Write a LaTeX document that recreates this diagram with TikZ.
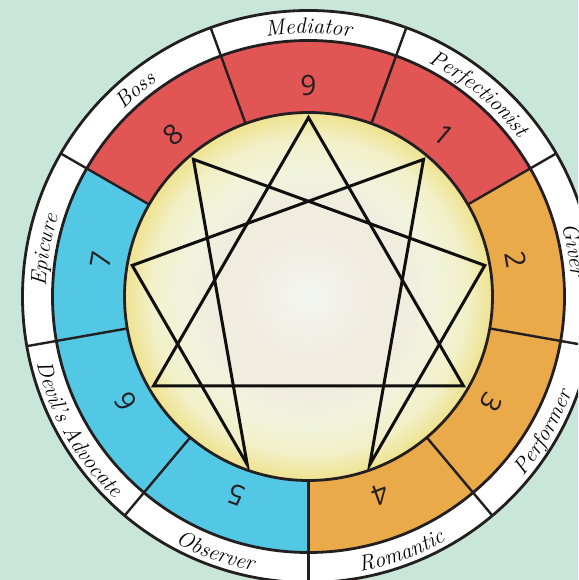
\documentclass[tikz,border=0pt]{standalone}
\usepackage{fontspec}
\newfontfamily\numfont{Open Sans}
\usetikzlibrary{decorations.text}

\definecolor{mint}{RGB}{200,230,218}
\definecolor{segred}{RGB}{225,85,85}
\definecolor{segorange}{RGB}{234,170,74}
\definecolor{segblue}{RGB}{82,200,228}
\definecolor{inkdark}{RGB}{35,31,32}
\definecolor{starink}{RGB}{15,15,15}
\definecolor{coremid}{RGB}{243,246,241}
\definecolor{corebeige}{RGB}{241,237,226}
\definecolor{coresand}{RGB}{240,237,222}
\definecolor{corepale}{RGB}{241,244,220}
\definecolor{corelemon}{RGB}{242,240,200}
\definecolor{coreyellow}{RGB}{239,228,150}
% the circle edge sits at 25bp
\pgfdeclareradialshading{coreglow}{\pgfpointorigin}{color(0bp)=(coremid); color(8bp)=(corebeige); color(13.5bp)=(coresand); color(17.5bp)=(corepale); color(21.5bp)=(corelemon); color(24.5bp)=(coreyellow); color(50bp)=(coreyellow)}

\newcommand{\lblfont}{\fontsize{22}{22}\selectfont\itshape}

\begin{document}
\begin{tikzpicture}[x=1pt, y=1pt,
    ringline/.style={draw=inkdark, line width=2.8pt},
    divline/.style={draw=inkdark, line width=2.4pt},
    starline/.style={draw=starink, line width=3pt, line join=miter},
    numlabel/.style={font=\numfont\fontsize{28}{28}\selectfont, text=inkdark, inner sep=0pt},
    cwlabel/.style={decorate, decoration={text along path, text align=center, text={|\lblfont|#1}}},
    ccwlabel/.style={decorate, decoration={text along path, text align=center, text={|\lblfont|#1}}}]

    % page and background
    \fill[mint] (-308.5,-283.5) rectangle (269.5,296.5);
    \useasboundingbox (-308.5,-283.5) rectangle (269.5,296.5);
    \clip (-308.5,-283.5) rectangle (269.5,296.5);

    % white label ring
    \fill[white] (0,0) circle (286pt);

    % coloured sectors
    \fill[segred] (70:184pt) arc[start angle=70, end angle=110, radius=184pt] -- (110:256pt) arc[start angle=110, end angle=70, radius=256pt] -- cycle;
    \fill[segred] (30:184pt) arc[start angle=30, end angle=70, radius=184pt] -- (70:256pt) arc[start angle=70, end angle=30, radius=256pt] -- cycle;
    \fill[segred] (110:184pt) arc[start angle=110, end angle=150, radius=184pt] -- (150:256pt) arc[start angle=150, end angle=110, radius=256pt] -- cycle;
    \fill[segorange] (-90:184pt) arc[start angle=-90, end angle=30, radius=184pt] -- (30:256pt) arc[start angle=30, end angle=-90, radius=256pt] -- cycle;
    \fill[segblue] (150:184pt) arc[start angle=150, end angle=270, radius=184pt] -- (270:256pt) arc[start angle=270, end angle=150, radius=256pt] -- cycle;

    % inner disc
    \shade[shading=coreglow] (0,0) circle (184pt);

    % points of the figure
    \coordinate (p9) at (90:179pt);
    \coordinate (p1) at (50:179pt);
    \coordinate (p2) at (10:179pt);
    \coordinate (p3) at (-30:179pt);
    \coordinate (p4) at (-70:179pt);
    \coordinate (p5) at (-110:179pt);
    \coordinate (p6) at (-150:179pt);
    \coordinate (p7) at (170:179pt);
    \coordinate (p8) at (130:179pt);

    \begin{scope}
        \clip (0,0) circle (184pt);
        \draw[starline] (p9) -- (p3) -- (p6) -- cycle;
        \draw[starline] (p1) -- (p4) -- (p2) -- (p8) -- (p5) -- (p7) -- cycle;
    \end{scope}

    % sector borders
    \draw[divline] (70:184pt) -- (70:286pt);
    \draw[divline] (30:184pt) -- (30:286pt);
    \draw[divline] (-10:184pt) -- (-10:286pt);
    \draw[divline] (-50:184pt) -- (-50:286pt);
    \draw[divline] (-90:184pt) -- (-90:286pt);
    \draw[divline] (-130:184pt) -- (-130:286pt);
    \draw[divline] (-170:184pt) -- (-170:286pt);
    \draw[divline] (150:184pt) -- (150:286pt);
    \draw[divline] (110:184pt) -- (110:286pt);

    \draw[ringline] (0,0) circle (286pt);
    \draw[ringline] (0,0) circle (256pt);
    \draw[ringline] (0,0) circle (184pt);

    % numbers
    \node[numlabel] (n9) at (90:211pt) {9};
    \node[numlabel, rotate=-40] (n1) at (50:211pt) {1};
    \node[numlabel, rotate=-80] (n2) at (10:211pt) {2};
    \node[numlabel, rotate=-120] (n3) at (-30:211pt) {3};
    \node[numlabel, rotate=-160] (n4) at (-70:211pt) {4};
    \node[numlabel, rotate=160] (n5) at (-110:211pt) {5};
    \node[numlabel, rotate=120] (n6) at (-150:211pt) {6};
    \node[numlabel, rotate=80] (n7) at (170:211pt) {7};
    \node[numlabel, rotate=40] (n8) at (130:211pt) {8};

    % type names
    \path[cwlabel=Mediator] (110:263pt) arc[start angle=110, end angle=70, radius=263pt];
    \path[cwlabel=Perfectionist] (70:263pt) arc[start angle=70, end angle=30, radius=263pt];
    \path[cwlabel=Giver] (30:263pt) arc[start angle=30, end angle=-10, radius=263pt];
    \path[ccwlabel=Performer] (-50:280pt) arc[start angle=-50, end angle=-10, radius=280pt];
    \path[ccwlabel=Romantic] (-90:280pt) arc[start angle=-90, end angle=-50, radius=280pt];
    \path[ccwlabel=Observer] (-130:280pt) arc[start angle=-130, end angle=-90, radius=280pt];
    \path[ccwlabel=Devil's Advocate] (-170:280pt) arc[start angle=-170, end angle=-130, radius=280pt];
    \path[cwlabel=Epicure] (190:263pt) arc[start angle=190, end angle=150, radius=263pt];
    \path[cwlabel=Boss] (150:263pt) arc[start angle=150, end angle=110, radius=263pt];
\end{tikzpicture}
\end{document}
